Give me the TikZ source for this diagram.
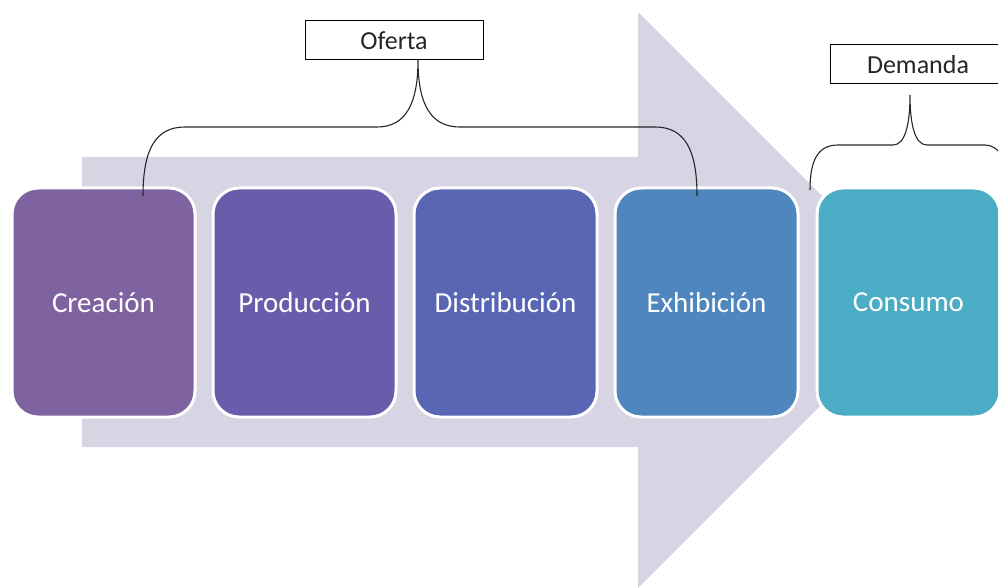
\documentclass[tikz,border=0pt]{standalone}
\usepackage{fontspec}
\setmainfont{Carlito}
\definecolor{arrowc}{HTML}{D7D4E4}
\definecolor{cA}{HTML}{7F63A0}
\definecolor{cB}{HTML}{6A5CAA}
\definecolor{cC}{HTML}{5866B4}
\definecolor{cD}{HTML}{5086BE}
\definecolor{cE}{HTML}{4BACC5}
\begin{document}
\begin{tikzpicture}[x=1pt,y=-1pt,
  stage/.style={rectangle,rounded corners=26pt,draw=white,line width=3pt,
    minimum width=183pt,minimum height=229pt,inner sep=0pt,text=white,
    font=\fontsize{29}{32}\selectfont},
  label box/.style={rectangle,draw=black,line width=1pt,fill=white,inner sep=0pt,
    font=\fontsize{26}{29}\selectfont,text=black!85},
  brace/.style={draw=black!85,line width=1.1pt}]
\useasboundingbox (0,0) rectangle (998,588);
\clip (0,0) rectangle (998,588);
% big arrow
\fill[arrowc] (82,157) -- (638,157) -- (638,12) -- (926,300) -- (638,588)
  -- (638,447) -- (82,447) -- cycle;
% stages
\node[stage,fill=cA] (crea) at (103.5,302.5) {Creación};
\node[stage,fill=cB] (prod) at (304.5,302.5) {Producción};
\node[stage,fill=cC] (dist) at (505.5,302.5) {Distribución};
\node[stage,fill=cD] (exhi) at (706.5,302.5) {Exhibición};
\node[stage,fill=cE] (cons) at (908.5,302.5) {Consumo};
% label boxes
\node[label box,minimum width=178pt,minimum height=39pt] (oferta) at (394,40.5) {Oferta};
\node[label box,minimum width=176pt,minimum height=39pt] (demanda) at (918,64.5) {Demanda};
% Oferta brace
\coordinate (otip) at (418,60);
\coordinate (oL) at (143,196);
\coordinate (oR) at (697,196);
\draw[brace] (oL) .. controls (143,150) and (155,127) .. (185,127) -- (377,127)
  .. controls (405,127) and (418,105) .. (otip)
  .. controls (418,105) and (431,127) .. (460,127) -- (655,127)
  .. controls (685,127) and (697,150) .. (oR);
% Demanda brace
\coordinate (dtip) at (910,95);
\coordinate (dL) at (810,190);
\coordinate (dR) at (1010,190);
\draw[brace] (dL) .. controls (810,160) and (818,145) .. (838,145) -- (893,145)
  .. controls (905,145) and (910,125) .. (dtip)
  .. controls (910,125) and (915,145) .. (927,145) -- (985,145)
  .. controls (998,145) and (1010,160) .. (dR);
\end{tikzpicture}
\end{document}
